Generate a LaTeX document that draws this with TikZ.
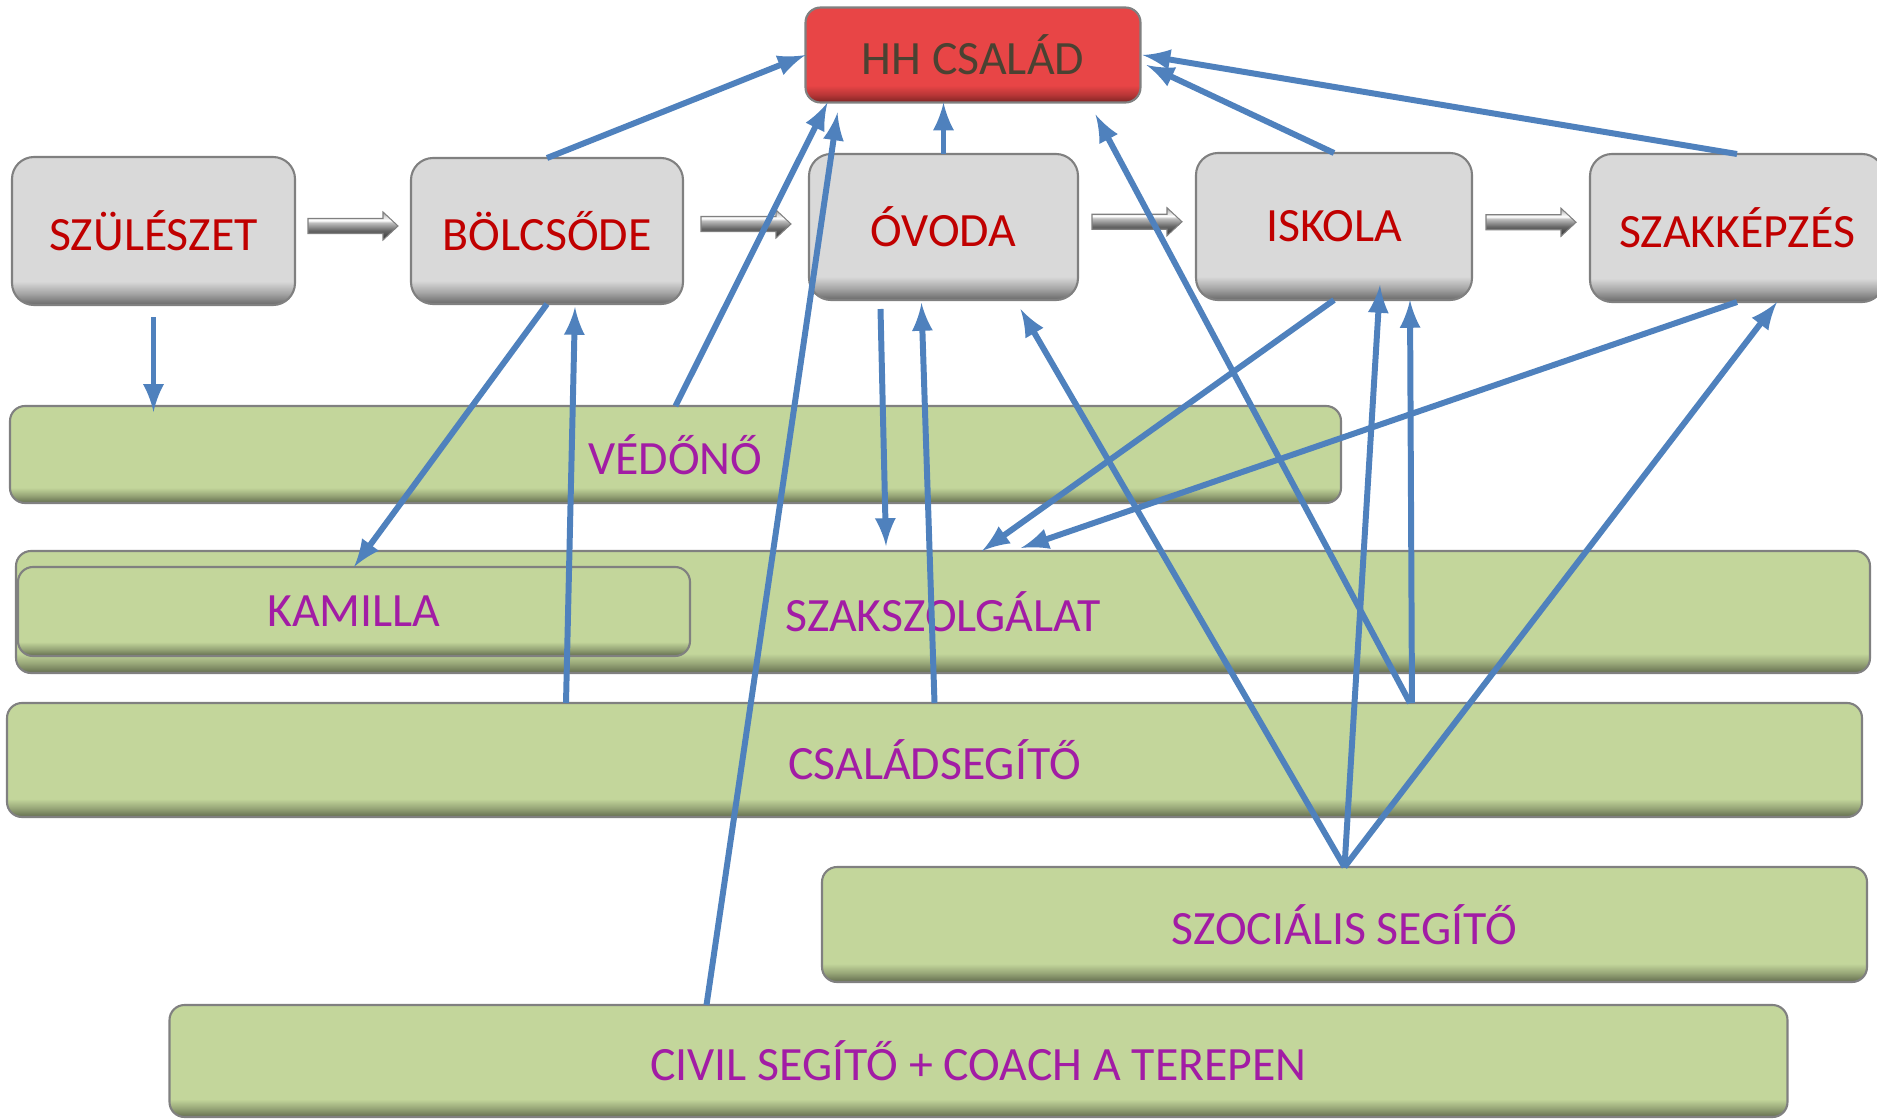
\documentclass[tikz,border=0pt]{standalone}
\usepackage{fontspec}
\setmainfont{Carlito}
\usetikzlibrary{arrows,calc}

\definecolor{boxgray}{HTML}{D9D9D9}
\definecolor{boxgraydk}{HTML}{686868}
\definecolor{barg}{HTML}{C3D69B}
\definecolor{bargdk}{HTML}{636D4E}
\definecolor{hhred}{HTML}{E84546}
\definecolor{hhreddk}{HTML}{7B2323}
\definecolor{txtred}{HTML}{C00000}
\definecolor{txtpurple}{HTML}{A21CA5}
\definecolor{txtbrown}{HTML}{4A4232}
\definecolor{linkblue}{HTML}{4F81BD}
\definecolor{edgegray}{HTML}{808080}

\pgfdeclareverticalshading{graybevel}{100bp}{color(0bp)=(boxgraydk); color(25bp)=(boxgraydk); color(29bp)=(boxgray!55!boxgraydk); color(33bp)=(boxgray); color(100bp)=(boxgray)}
\pgfdeclareverticalshading{greenbevel}{100bp}{color(0bp)=(bargdk); color(25bp)=(bargdk); color(29bp)=(barg!55!bargdk); color(33bp)=(barg); color(100bp)=(barg)}
\pgfdeclareverticalshading{redbevel}{100bp}{color(0bp)=(hhreddk); color(25bp)=(hhreddk); color(29bp)=(hhred!55!hhreddk); color(34bp)=(hhred); color(100bp)=(hhred)}
\pgfdeclareverticalshading{arrowsheen}{100bp}{color(0bp)=(black!80); color(25bp)=(black!80); color(42bp)=(black!60); color(56bp)=(black!25); color(60bp)=(white); color(66bp)=(black!12); color(75bp)=(black!40); color(100bp)=(black!40)}

\tikzset{
	box/.style={inner sep=0pt,outer sep=0pt,font=\fontsize{13.6}{16}\selectfont},
	redbox/.style={box,draw=edgegray,line width=0.6pt,rounded corners=1.5mm,shade,shading=redbevel,text=txtbrown},
	graybox/.style={box,draw=edgegray,line width=0.6pt,rounded corners=2.2mm,shade,shading=graybevel,text=txtred},
	greenbar/.style={box,draw=edgegray,line width=0.6pt,rounded corners=1.5mm,shade,shading=greenbevel,text=txtpurple},
	stepflow/.style={draw=black!50,line width=0.3pt,shading=arrowsheen},
	link/.style={draw=linkblue,line width=1.7pt,->,>=latex}
}

\begin{document}
\begin{tikzpicture}[x=0.1mm,y=-0.1mm]
	\useasboundingbox (0,0) rectangle (1877,1119);
	% green bars
	\node[greenbar,minimum width=133.1mm,minimum height=9.7mm] (vedo) at (675.5,454.5) {VÉDŐNŐ};
	\node[greenbar,minimum width=185.4mm,minimum height=12.2mm] (szaksz) at (943,612) {SZAKSZOLGÁLAT};
	\node[greenbar,minimum width=67.2mm,minimum height=8.9mm] (kamilla) at (354,611.5) {KAMILLA};
	\node[greenbar,minimum width=185.5mm,minimum height=11.4mm] (csal) at (934.5,760) {CSALÁDSEGÍTŐ};
	\node[greenbar,minimum width=104.5mm,minimum height=11.5mm] (szoc) at (1344.5,924.5) {SZOCIÁLIS SEGÍTŐ};
	\node[greenbar,minimum width=161.8mm,minimum height=11.2mm] (civil) at (978.5,1061) {CIVIL SEGÍTŐ + COACH A TEREPEN};
	% top row
	\node[redbox,minimum width=33.5mm,minimum height=9.5mm] (hh) at (973,55) {HH CSALÁD};
	\node[graybox,minimum width=28.3mm,minimum height=14.8mm] (szul) at (153.5,231) {SZÜLÉSZET};
	\node[graybox,minimum width=27.2mm,minimum height=14.6mm] (bolcs) at (547,231) {BÖLCSŐDE};
	\node[graybox,minimum width=26.9mm,minimum height=14.6mm] (ovoda) at (943.5,227) {ÓVODA};
	\node[graybox,minimum width=27.6mm,minimum height=14.7mm] (iskola) at (1334,226.5) {ISKOLA};
	\node[graybox,minimum width=29.4mm,minimum height=14.8mm] (szakk) at (1737,228) {SZAKKÉPZÉS};
	\foreach \a/\b in {szul/bolcs,bolcs/ovoda,ovoda/iskola,iskola/szakk}{
		\coordinate (\a-\b) at ($(\a.east)!0.5!(\b.west)+(0,-5)$);
		\shadedraw[stepflow,shift={(\a-\b)}] (-45,-7.5) -- (30,-7.5) -- (30,-14) -- (45,0) -- (30,14) -- (30,7.5) -- (-45,7.5) -- cycle;
	}
	% links
	\draw[link] ([yshift=-1.2mm]szul.south) -- ([yshift=-0.6mm]szul.south |- vedo.north);
	\draw[link] (bolcs.north) -- (hh.west);
	\draw[link] (vedo.north) -- ([xshift=2.2mm]hh.south west);
	\draw[link] ([xshift=53.7mm]civil.north west) -- ([xshift=3.2mm,yshift=-1mm]hh.south west);
	\draw[link] (ovoda.north) -- (ovoda.north |- hh.south);
	\draw[link] (iskola.north) -- ([xshift=0.6mm,yshift=-1mm]hh.east);
	\draw[link] (szakk.north) -- ([xshift=0.2mm]hh.east);
	\draw[link] ([xshift=140.3mm]csal.north west) -- ([xshift=-4.5mm,yshift=-1.2mm]hh.south east);
	\draw[link] ([xshift=140.5mm]csal.north west) -- ([xshift=7.6mm]iskola.south);
	\draw[link] (iskola.south) -- ([xshift=3.9mm]szaksz.north);
	\draw[link] (szakk.south) -- ([xshift=7.8mm,yshift=0.3mm]szaksz.north);
	\draw[link] (szoc.north) -- ([xshift=7.7mm,yshift=-0.9mm]ovoda.south);
	\draw[link] (szoc.north) -- ([xshift=4.6mm,yshift=1.5mm]iskola.south);
	\draw[link] (szoc.north) -- ([xshift=4mm]szakk.south);
	\draw[link] ([xshift=-6.3mm,yshift=-0.9mm]ovoda.south) -- ([xshift=-5.7mm,yshift=0.5mm]szaksz.north);
	\draw[link] (csal.north) -- ([xshift=-2.2mm,yshift=-0.3mm]ovoda.south);
	\draw[link] (bolcs.south) -- (kamilla.north);
	\draw[link] ([xshift=55.9mm]csal.north west) -- ([xshift=2.8mm,yshift=-0.3mm]bolcs.south);
\end{tikzpicture}
\end{document}
